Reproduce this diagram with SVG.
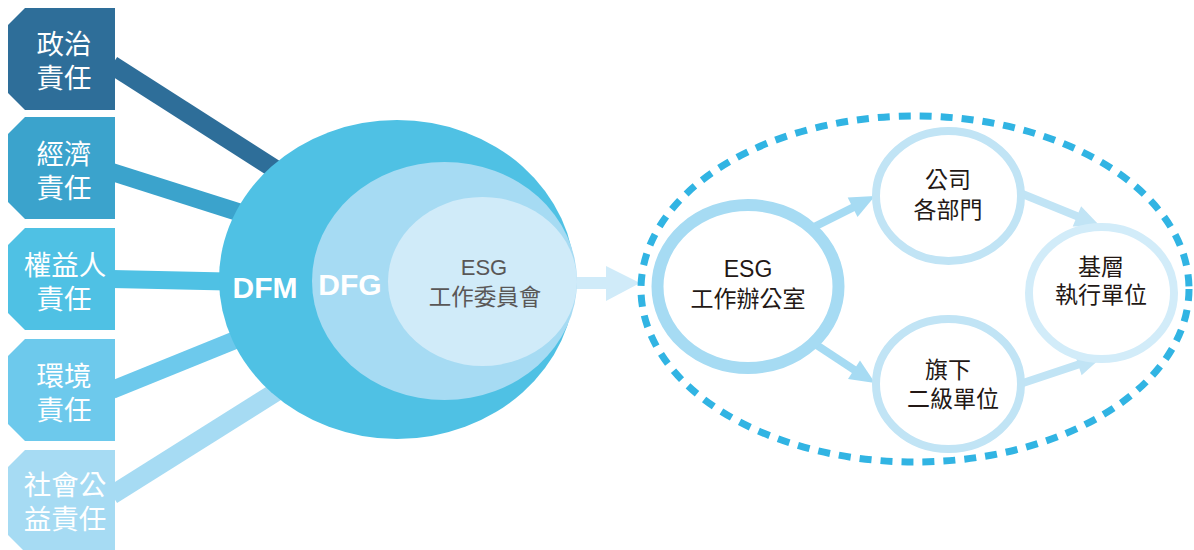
<svg xmlns="http://www.w3.org/2000/svg" width="1194" height="550" viewBox="0 0 1194 550">
<style>
.box text{font-family:"Liberation Sans","Noto Sans CJK TC","Noto Sans CJK SC",sans-serif;font-size:27.5px;fill:#ffffff;text-anchor:middle}
.lbl{font-family:"Liberation Sans","Noto Sans CJK TC",sans-serif;text-anchor:middle}
.cjk{font-family:"Liberation Sans","Noto Sans CJK TC",sans-serif;font-size:23px;fill:#231815;text-anchor:middle}
.big{font-family:"Liberation Sans",Arial,sans-serif;font-weight:bold;font-size:30px;fill:#ffffff;text-anchor:middle}
.ring{fill:#ffffff}
</style>
<defs>
<path id="boxshape" d="M25,0 H115 V102 H25 L8,85 V17 Z"/>
</defs>
<g id="connectors">
<line x1="112" y1="65" x2="295" y2="182" stroke="#2e6e99" stroke-width="19"/>
<line x1="112" y1="172" x2="260" y2="219" stroke="#3ba3cc" stroke-width="18"/>
<line x1="112" y1="279" x2="250" y2="282" stroke="#4fc1e4" stroke-width="18"/>
<line x1="112" y1="390" x2="260" y2="330" stroke="#6dc9ec" stroke-width="18"/>
<line x1="112" y1="495" x2="295" y2="380" stroke="#a6dbf3" stroke-width="19"/>
<rect x="575" y="277" width="32" height="12" fill="#d0ebf9"/>
<polygon points="606,266 640,283 606,301" fill="#d0ebf9"/>
<line x1="812" y1="228" x2="854" y2="207" stroke="#a6dbf3" stroke-width="8"/>
<polygon points="875,196 857.5,217 847.7,197.4" fill="#a6dbf3"/>
<line x1="812" y1="342" x2="856" y2="371" stroke="#a6dbf3" stroke-width="8"/>
<polygon points="875,383 848,379 860,360.5" fill="#a6dbf3"/>
<line x1="1020" y1="193" x2="1079" y2="217" stroke="#c1e4f5" stroke-width="8"/>
<polygon points="1100,226 1072.7,226.6 1081.1,206.2" fill="#c1e4f5"/>
<line x1="1020" y1="384" x2="1080" y2="364" stroke="#c1e4f5" stroke-width="8"/>
<polygon points="1102,357 1081.6,375.2 1074.8,354.2" fill="#c1e4f5"/>
</g>
<g id="box-politics" class="box" transform="translate(0,8)">
<use href="#boxshape" fill="#2e6e99"/>
<text x="64" y="46">政治</text><text x="64" y="80">責任</text>
</g>
<g id="box-economy" class="box" transform="translate(0,117)">
<use href="#boxshape" fill="#3ba3cc"/>
<text x="64" y="47">經濟</text><text x="64" y="81">責任</text>
</g>
<g id="box-stakeholder" class="box" transform="translate(0,228)">
<use href="#boxshape" fill="#4fc1e4"/>
<text x="65" y="47">權益人</text><text x="64" y="81">責任</text>
</g>
<g id="box-environment" class="box" transform="translate(0,339)">
<use href="#boxshape" fill="#6dc9ec"/>
<text x="64" y="47">環境</text><text x="64" y="81">責任</text>
</g>
<g id="box-social" class="box" transform="translate(0,450)">
<use href="#boxshape" fill="#a6dbf3"/>
<text x="65" y="45">社會公</text><text x="65" y="79">益責任</text>
</g>
<g id="dfm">
<ellipse cx="397" cy="279.5" rx="178" ry="159.5" fill="#4fc1e4"/>
<text class="big" x="265" y="298">DFM</text>
</g>
<g id="dfg">
<ellipse cx="444.5" cy="281" rx="132.5" ry="119" fill="#a6dbf3"/>
<text class="big" x="350" y="295">DFG</text>
</g>
<g id="esg-committee">
<ellipse cx="482.5" cy="281.5" rx="94.5" ry="84.5" fill="#d0ebf9"/>
<text class="lbl" x="484" y="275" font-size="22" fill="#595757">ESG</text>
<text class="lbl" x="485" y="305" font-size="22.5" fill="#595757">工作委員會</text>
</g>
<g id="dashed-boundary">
<ellipse cx="915" cy="289" rx="274" ry="173" fill="none" stroke="#31b4e3" stroke-width="7" stroke-dasharray="12 9"/>
</g>
<g id="esg-office">
<ellipse class="ring" cx="748" cy="286.5" rx="90.5" ry="81.5" stroke="#a6dbf3" stroke-width="12"/>
<text class="cjk" x="748" y="277">ESG</text>
<text class="cjk" x="748" y="307">工作辦公室</text>
</g>
<g id="company-depts">
<ellipse class="ring" cx="948.5" cy="196" rx="72.5" ry="65" stroke="#c1e4f5" stroke-width="8"/>
<text class="cjk" x="948" y="188">公司</text>
<text class="cjk" x="948" y="218">各部門</text>
</g>
<g id="subsidiaries">
<ellipse class="ring" cx="948.5" cy="384" rx="72.5" ry="65" stroke="#c1e4f5" stroke-width="8"/>
<text class="cjk" x="948" y="378">旗下</text>
<text class="cjk" x="953" y="407">二級單位</text>
</g>
<g id="grassroots">
<ellipse class="ring" cx="1101.5" cy="293" rx="72.5" ry="66" stroke="#d2ecf9" stroke-width="8"/>
<text class="cjk" x="1101" y="275">基層</text>
<text class="cjk" x="1101" y="303">執行單位</text>
</g>
</svg>
